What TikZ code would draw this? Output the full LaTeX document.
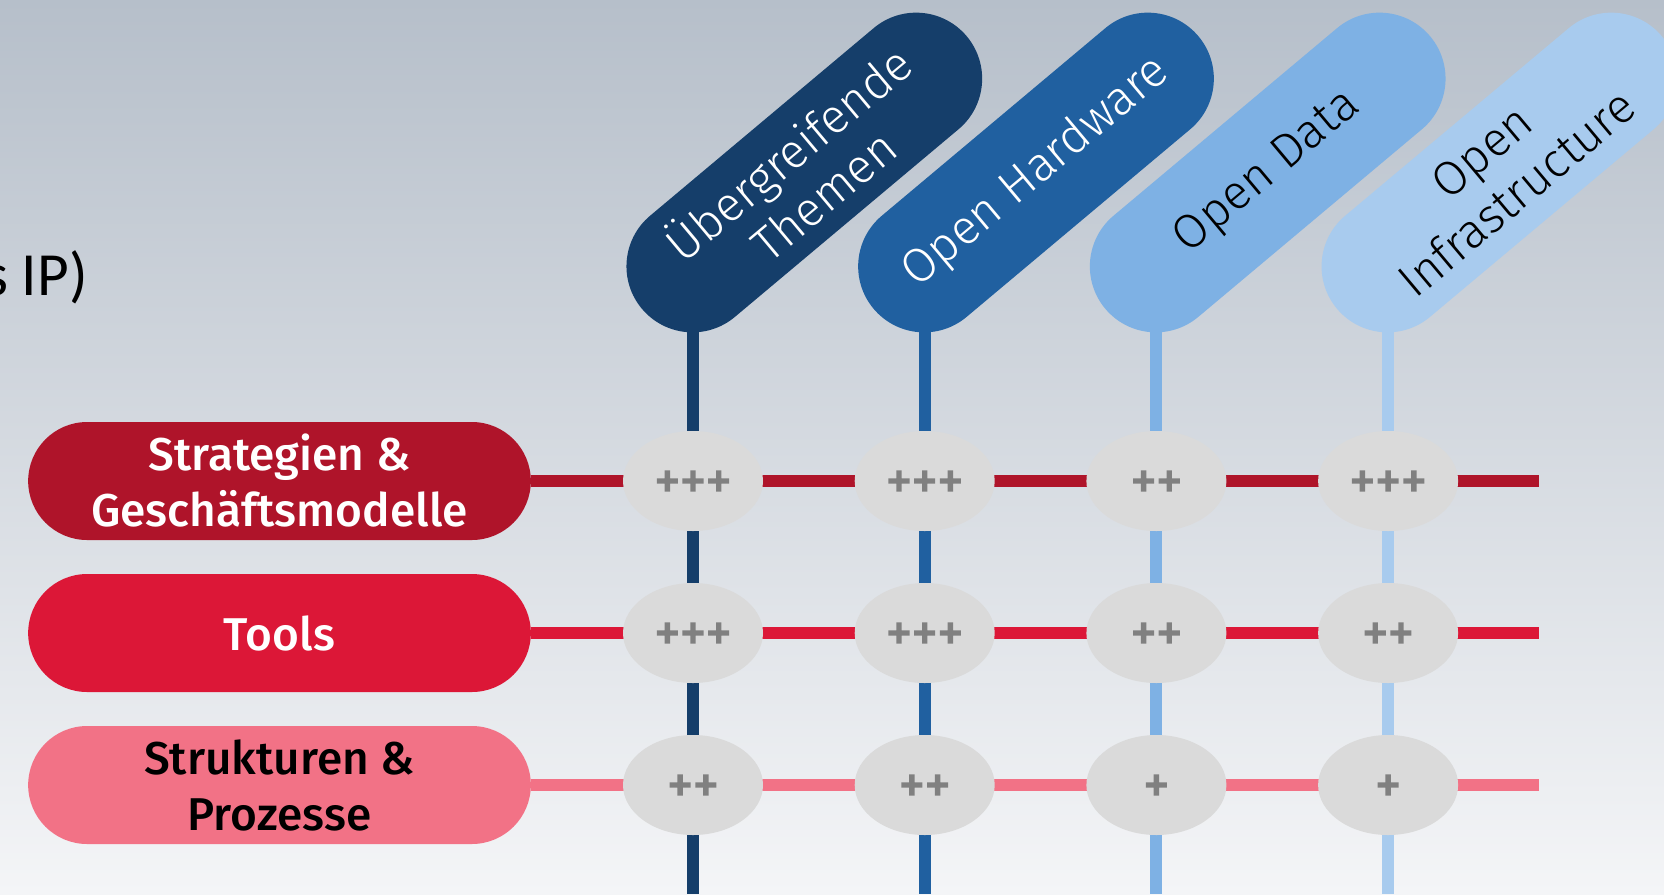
\documentclass[tikz,border=0pt]{standalone}
\usepackage{fontspec}
\setmainfont{Fira Sans}
\newfontfamily\lightfont{Fira Sans Light}
\newfontfamily\medfont{Fira Sans Medium}
\newfontfamily\plusfont{DejaVu Sans Bold}[FakeBold=6]
\newfontfamily\titlefont{Carlito}
\usetikzlibrary{shapes.misc,shapes.geometric}

\definecolor{bgtop}{RGB}{182,191,202}
\definecolor{bgbot}{RGB}{244,245,247}
\definecolor{rowA}{RGB}{175,20,42}
\definecolor{rowB}{RGB}{220,23,55}
\definecolor{rowC}{RGB}{242,114,134}
\definecolor{colA}{RGB}{21,62,106}
\definecolor{colB}{RGB}{32,96,160}
\definecolor{colC}{RGB}{126,177,228}
\definecolor{colD}{RGB}{168,203,238}
\definecolor{cellgray}{RGB}{218,218,218}
\definecolor{plusgray}{RGB}{128,128,128}

\pgfdeclarelayer{bg}
\pgfdeclarelayer{lines}
\pgfsetlayers{bg,lines,main}

\tikzset{
  rowpill/.style={rounded rectangle, minimum width=377pt, minimum height=88.5pt, inner sep=0pt, align=center, font=\medfont\fontsize{34.5}{42}\selectfont},
  colpill/.style={rounded rectangle, rotate=40, minimum width=318pt, minimum height=99pt, inner sep=0pt, align=center, font=\lightfont\fontsize{36}{41}\selectfont},
  cell/.style={ellipse, fill=cellgray, minimum width=105pt, minimum height=75pt, inner sep=0pt, text=plusgray, font=\plusfont\fontsize{23}{23}\selectfont},
  link/.style={line width=9pt},
}

\begin{document}
\begin{tikzpicture}[x=0.75pt,y=0.75pt,yscale=-1,xscale=1]
    \useasboundingbox (0,0) rectangle (1664,894);

    % Background
    \begin{pgfonlayer}{bg}
    \shade[top color=bgtop, bottom color=bgbot] (0,0) rectangle (1664,894);
    \end{pgfonlayer}

    % Text Node
    \node[anchor=base east, inner sep=0pt, font=\titlefont\fontsize{46}{54}\selectfont] (title) at (88,295) {s IP)};

    % Column ends
    \coordinate (b1) at (693,894);
    \coordinate (b2) at (924.7,894);
    \coordinate (b3) at (1156.4,894);
    \coordinate (b4) at (1388.1,894);
    % Row ends
    \coordinate (e1) at (1539,481);
    \coordinate (e2) at (1539,633);
    \coordinate (e3) at (1539,785);

    % Column pills
    \node[colpill, fill=colA, text=white] (c1) at (804.3,172.5) {Übergreifende\\Themen};
    \node[colpill, fill=colB, text=white] (c2) at (1036,172.5) {Open Hardware};
    \node[colpill, fill=colC, text=black] (c3) at (1267.7,172.5) {Open Data};
    \node[colpill, fill=colD, text=black] (c4) at (1499.4,172.5) {Open\\Infrastructure};

    % Row pills
    \node[rowpill, fill=rowA, text=white] (r1) at (279.5,481) {Strategien \&\\Geschäftsmodelle};
    \node[rowpill, fill=rowB, text=white] (r2) at (279.5,633) {Tools};
    \node[rowpill, fill=rowC, text=black] (r3) at (279.5,785) {Strukturen \&\\Prozesse};

    % Straight Lines
    \begin{pgfonlayer}{lines}
    \draw[link, colA] (c1.west -| b1) -- (b1);
    \draw[link, colB] (c2.west -| b2) -- (b2);
    \draw[link, colC] (c3.west -| b3) -- (b3);
    \draw[link, colD] (c4.west -| b4) -- (b4);
    \draw[link, rowA] (r1.east) -- (e1);
    \draw[link, rowB] (r2.east) -- (e2);
    \draw[link, rowC] (r3.east) -- (e3);
    \end{pgfonlayer}

    % Cells
    \node[cell] (m11) at (b1 |- r1) {+++};
    \node[cell] (m21) at (b2 |- r1) {+++};
    \node[cell] (m31) at (b3 |- r1) {++};
    \node[cell] (m41) at (b4 |- r1) {+++};
    \node[cell] (m12) at (b1 |- r2) {+++};
    \node[cell] (m22) at (b2 |- r2) {+++};
    \node[cell] (m32) at (b3 |- r2) {++};
    \node[cell] (m42) at (b4 |- r2) {++};
    \node[cell] (m13) at (b1 |- r3) {++};
    \node[cell] (m23) at (b2 |- r3) {++};
    \node[cell] (m33) at (b3 |- r3) {+};
    \node[cell] (m43) at (b4 |- r3) {+};

\end{tikzpicture}
\end{document}
